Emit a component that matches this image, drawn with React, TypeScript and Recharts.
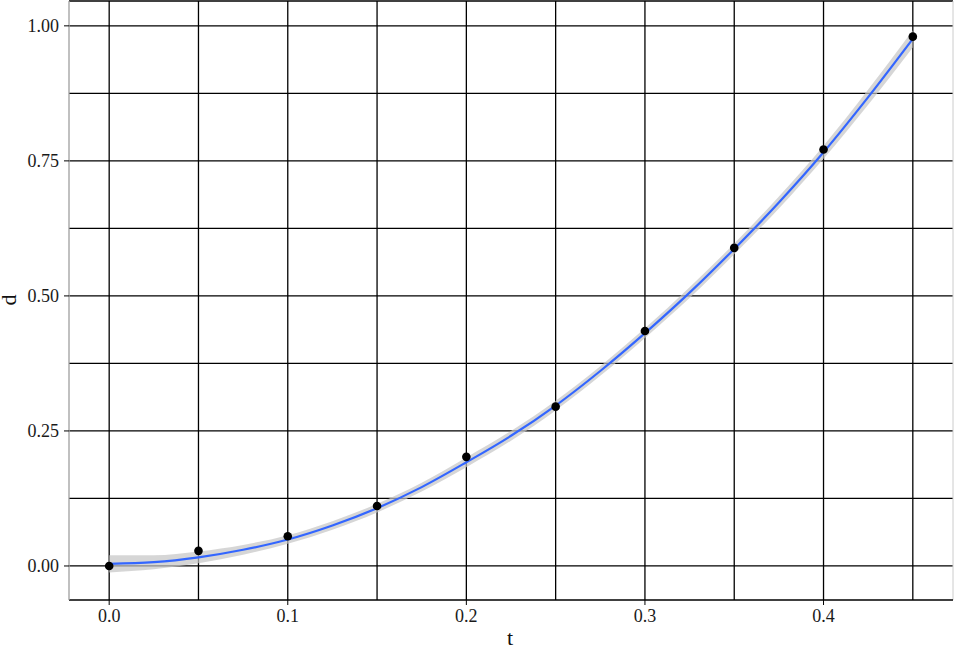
import { ComposedChart, Line, Area, Scatter, XAxis, YAxis, CartesianGrid, ReferenceLine } from 'recharts';

// observed points
const obsT = [0, 0.05, 0.1, 0.15, 0.2, 0.25, 0.3, 0.35, 0.4, 0.45];
const obsD = [0, 0.028, 0.055, 0.111, 0.202, 0.295, 0.435, 0.589, 0.771, 0.98];

// smooth fit and its confidence band
const fitT = [0, 0.025, 0.05, 0.075, 0.1, 0.125, 0.15, 0.175, 0.2, 0.225, 0.25, 0.275, 0.3, 0.325, 0.35, 0.375, 0.4, 0.425, 0.45];
const fitD = [0.004, 0.007, 0.016, 0.03, 0.049, 0.075, 0.107, 0.146, 0.192, 0.241, 0.297, 0.361, 0.431, 0.506, 0.587, 0.673, 0.766, 0.868, 0.976];
const fitLo = [-0.012, -0.006, 0.005, 0.021, 0.041, 0.067, 0.099, 0.138, 0.183, 0.232, 0.288, 0.352, 0.422, 0.496, 0.577, 0.662, 0.754, 0.854, 0.96];
const fitHi = [0.02, 0.02, 0.027, 0.039, 0.057, 0.083, 0.115, 0.154, 0.201, 0.25, 0.306, 0.37, 0.44, 0.516, 0.597, 0.684, 0.778, 0.882, 0.992];

const xTicks = [0, 0.1, 0.2, 0.3, 0.4];
const yTicks = [0, 0.25, 0.5, 0.75, 1];
const xGrid = [0, 0.05, 0.1, 0.15, 0.2, 0.25, 0.3, 0.35, 0.4, 0.45];
const yGrid = [0, 0.125, 0.25, 0.375, 0.5, 0.625, 0.75, 0.875, 1];

const points = obsT.map((t, i) => ({ t, d: obsD[i] }));
const fit = fitT.map((t, i) => ({ t, d: fitD[i], band: [fitLo[i], fitHi[i]] }));

const FONT = '"Liberation Serif", "DejaVu Serif", serif';
const X_DOMAIN: [number, number] = [-0.0225, 0.4725];
const Y_DOMAIN: [number, number] = [-0.063, 1.046];

type TickProps = { x?: number; y?: number; payload?: { value: number } };

const XTick = ({ x = 0, y = 0, payload }: TickProps) => (
  <text x={x} y={y + 14} textAnchor="middle" fill="#1a1a1a"
    style={{ fontSize: 18, fontFamily: FONT }}>
    {payload ? payload.value.toFixed(1) : ''}
  </text>
);

const YTick = ({ x = 0, y = 0, payload }: TickProps) => (
  <text x={x} y={y + 6} textAnchor="end" fill="#1a1a1a"
    style={{ fontSize: 18, fontFamily: FONT }}>
    {payload ? payload.value.toFixed(2) : ''}
  </text>
);

export default function App() {
  return (
    <div style={{ position: 'absolute', left: 0, top: 0, width: 955, height: 650, background: '#fff' }}>
      <ComposedChart width={955} height={650} margin={{ top: 1, right: 2, left: 0, bottom: 0 }}>
        <CartesianGrid
          stroke="#000" strokeWidth={1.3}
          horizontalValues={yGrid} verticalValues={xGrid}
        />
        <ReferenceLine y={Y_DOMAIN[1]} stroke="#000" strokeWidth={1.3} />
        <ReferenceLine x={X_DOMAIN[1]} stroke="#ccc" strokeWidth={1} />
        <XAxis
          type="number" dataKey="t" domain={X_DOMAIN} ticks={xTicks} allowDataOverflow
          height={50} tickSize={5} tickMargin={3}
          axisLine={{ stroke: '#000', strokeWidth: 1.3 }} tickLine={{ stroke: '#000' }}
          tick={<XTick />}
        />
        <YAxis
          type="number" domain={Y_DOMAIN} ticks={yTicks} allowDataOverflow
          width={69} tickSize={5} tickMargin={5}
          axisLine={{ stroke: '#9e9e9e', strokeWidth: 1.3 }} tickLine={{ stroke: '#000' }}
          tick={<YTick />}
        />
        <Area
          data={fit} dataKey="band" type="monotone" stroke="none" fill="#c4c4c4" fillOpacity={0.7}
          isAnimationActive={false} activeDot={false}
        />
        <Line
          data={fit} dataKey="d" type="monotone" stroke="#3366FF" strokeWidth={2.2} dot={false}
          isAnimationActive={false} activeDot={false}
        />
        <Scatter data={points} dataKey="d" fill="#000" isAnimationActive={false}
          shape={(p: { cx?: number; cy?: number }) => <circle cx={p.cx} cy={p.cy} r={4.3} fill="#000" />}
        />
      </ComposedChart>
      <div style={{ position: 'absolute', left: 500, top: 626, width: 20, textAlign: 'center',
        fontFamily: FONT, fontSize: 22, color: '#111', lineHeight: '24px' }}>t</div>
      <div style={{ position: 'absolute', left: 0, top: 292, width: 18, height: 16, textAlign: 'center',
        fontFamily: FONT, fontSize: 22, color: '#111', lineHeight: '16px', transform: 'rotate(-90deg)' }}>d</div>
    </div>
  );
}
